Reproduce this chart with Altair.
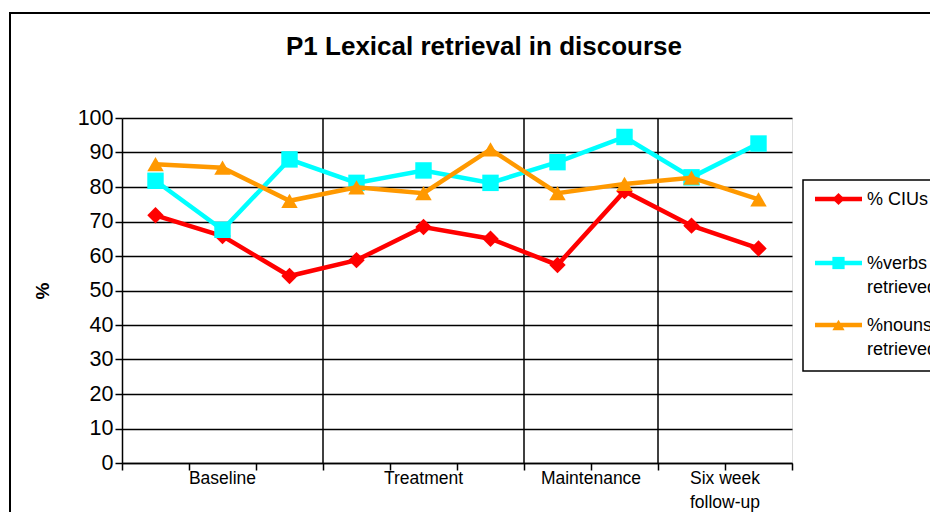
import altair as alt
import pandas as pd

# ---- data ----
sessions = [1, 2, 3, 4, 5, 6, 7, 8, 9, 10]
ciu = [71.8, 65.8, 54.2, 58.8, 68.4, 65.0, 57.4, 78.8, 68.8, 62.2]
verbs = [81.8, 67.6, 88.0, 81.2, 84.8, 81.2, 87.2, 94.5, 82.8, 92.6]
nouns = [86.6, 85.6, 76.0, 79.9, 78.2, 90.9, 78.2, 80.9, 82.7, 76.4]

series_names = ["% CIUs", "%verbs retrieved", "%nouns retrieved"]
legend_lines = [["% CIUs"], ["%verbs", "retrieved"], ["%nouns", "retrieved"]]
colors = ["#FF0000", "#00FFFF", "#FF9900"]
shapes = ["diamond", "square", "triangle-up"]

phase_first_line = ["Baseline", "Treatment", "Maintenance", "Six week"]
phase_first_pos = [1.5, 4.5, 7.0, 9.0]
phase_second_line = ["follow-up"]
phase_second_pos = [9.0]
phase_bounds = [3, 6, 8]
y_ticks = [0, 10, 20, 30, 40, 50, 60, 70, 80, 90, 100]
x_ticks = [0, 1, 2, 3, 4, 5, 6, 7, 8, 9, 10]

W, H = 670, 345
FONT = "Liberation Sans"

xscale = alt.Scale(domain=[0, 10], nice=False, zero=False)
yscale = alt.Scale(domain=[0, 100], nice=False)

x_axis = alt.Axis(values=x_ticks, labels=False, grid=False, title=None,
                  domainColor="black", domainWidth=1.5, tickColor="black",
                  tickWidth=1.5, tickSize=7)
y_axis = alt.Axis(values=y_ticks, grid=True, gridColor="black", gridWidth=1.5,
                  domainColor="black", domainWidth=1.5, tickColor="black",
                  tickWidth=1.5, tickSize=7, labelFontSize=21.5, labelColor="black",
                  labelPadding=2, labelFont=FONT,
                  title="%", titleFontSize=19, titleFontWeight="bold",
                  titleColor="black", titleFont=FONT, titleAngle=270,
                  titleX=-80, titleY=H / 2, titleAlign="center",
                  titleBaseline="middle")

dummy = pd.DataFrame({"d": [0]})

layers = []

# separators between phases
bounds_df = pd.DataFrame({"pos": phase_bounds})
layers.append(
    alt.Chart(bounds_df).mark_rule(color="black", strokeWidth=1.5).encode(
        x=alt.X("pos:Q", scale=xscale, axis=x_axis),
        y=alt.value(0), y2=alt.value(H))
)

# series
for name, vals, col, shp in zip(series_names, [ciu, verbs, nouns], colors, shapes):
    df = pd.DataFrame({"pos": [s - 0.5 for s in sessions], "value": vals, "series": name})
    base = alt.Chart(df).encode(
        x=alt.X("pos:Q", scale=xscale, axis=x_axis),
        y=alt.Y("value:Q", scale=yscale, axis=y_axis),
    )
    layers.append(base.mark_line(color=col, strokeWidth=4.5))
    layers.append(base.mark_point(color=col, filled=True, opacity=1, size=270, shape=shp))

# phase labels
p1 = pd.DataFrame({"label": phase_first_line, "pos": phase_first_pos})
p2 = pd.DataFrame({"label": phase_second_line, "pos": phase_second_pos})
layers.append(
    alt.Chart(p1).mark_text(font=FONT, fontSize=17.5, color="black", baseline="middle").encode(
        x=alt.X("pos:Q", scale=xscale, axis=x_axis), y=alt.value(H + 16), text="label:N")
)
layers.append(
    alt.Chart(p2).mark_text(font=FONT, fontSize=17.5, color="black", baseline="middle").encode(
        x=alt.X("pos:Q", scale=xscale, axis=x_axis), y=alt.value(H + 40), text="label:N")
)

# title
layers.append(
    alt.Chart(dummy).mark_text(text="P1 Lexical retrieval in discourse", font=FONT,
                               fontSize=26, fontWeight="bold", color="black",
                               align="center", baseline="middle").encode(
        x=alt.value(362), y=alt.value(-71))
)

# outer border
layers.append(
    alt.Chart(dummy).mark_rect(fill="white", fillOpacity=0, stroke="black", strokeWidth=2).encode(
        x=alt.value(-112), x2=alt.value(900), y=alt.value(-105), y2=alt.value(500))
)

# legend box
layers.append(
    alt.Chart(dummy).mark_rect(fill="white", fillOpacity=0, stroke="black", strokeWidth=1.5).encode(
        x=alt.value(681), x2=alt.value(900), y=alt.value(62), y2=alt.value(253))
)

legend_rows = [81, 145, 207]
for lines, col, shp, ly in zip(legend_lines, colors, shapes, legend_rows):
    layers.append(
        alt.Chart(dummy).mark_rule(color=col, strokeWidth=4.5).encode(
            x=alt.value(693), x2=alt.value(740), y=alt.value(ly))
    )
    layers.append(
        alt.Chart(dummy).mark_point(color=col, filled=True, opacity=1, size=150, shape=shp).encode(
            x=alt.value(716.5), y=alt.value(ly))
    )
    for k, t in enumerate(lines):
        layers.append(
            alt.Chart(dummy).mark_text(text=t, font=FONT, fontSize=18, color="black",
                                       align="left", baseline="middle").encode(
                x=alt.value(745), y=alt.value(ly + 1 + 24 * k))
        )

chart = alt.layer(*layers).properties(
    width=W, height=H,
    autosize=alt.AutoSizeParams(type="none"),
    padding={"left": 114, "top": 110, "right": 138, "bottom": 49},
    background="white",
).configure_view(stroke="black", strokeWidth=1.5).configure(font=FONT)

chart.save("out.html", embed_options={"renderer": "svg", "actions": False})
